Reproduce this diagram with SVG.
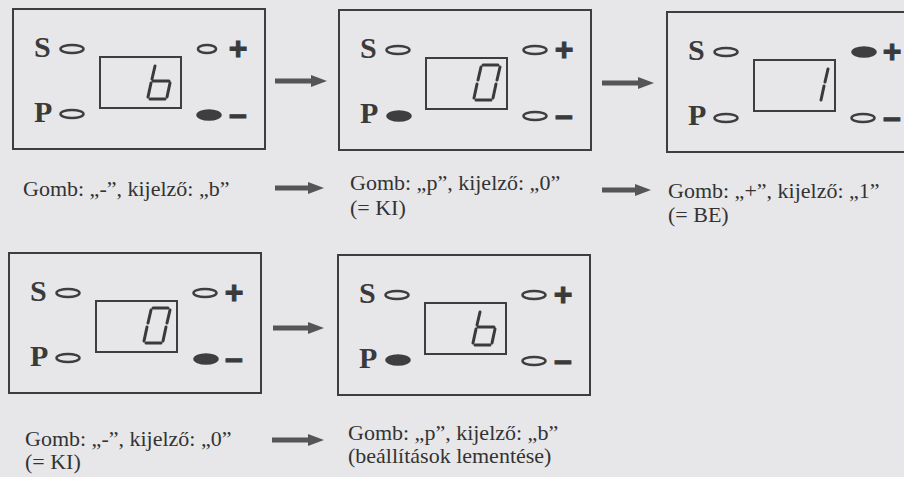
<svg xmlns="http://www.w3.org/2000/svg" width="904" height="477" viewBox="0 0 904 477">
<defs>
<style>
.bg{fill:#e7e7ea}
.box{fill:none;stroke:#3e3e3e;stroke-width:2}
.disp{fill:none;stroke:#3e3e3e;stroke-width:2}
.ov{fill:none;stroke:#3e3e3e;stroke-width:2.5}
.ovf{fill:#3e3e3e;stroke:#3e3e3e;stroke-width:1.5}
.lt{font-family:"Liberation Serif",serif;font-weight:bold;font-size:30px;fill:#3a3a3a}
.sg{font-family:"Liberation Sans",sans-serif;font-weight:bold;font-size:32px;fill:#3a3a3a;stroke:#3a3a3a;stroke-width:1;text-anchor:middle}
.seg{stroke:#3a3a3a;stroke-width:3;stroke-linecap:round;fill:none}
.cap{font-family:"Liberation Serif",serif;font-size:22px;fill:#333}
.arr{stroke:#555;stroke-width:5;fill:none}
</style>
<marker id="ah" markerUnits="userSpaceOnUse" markerWidth="16" markerHeight="14" refX="1" refY="7" orient="auto" viewBox="0 0 16 14">
<path d="M0,1 L16,7 L0,13 Z" fill="#555"/>
</marker>
<g id="base">
<rect class="box" x="0" y="0" width="252" height="140"/>
<text class="lt" x="21" y="48">S</text>
<text class="lt" x="21" y="113">P</text>
<rect class="disp" x="87" y="48" width="81" height="51"/>
<text class="sg" x="225" y="50">+</text>
<text class="sg" x="225" y="116">–</text>
</g>
</defs>
<rect class="bg" x="0" y="0" width="904" height="477"/>

<g id="panel1" transform="translate(13,9)">
<use href="#base"/>
<ellipse class="ov" cx="59" cy="40" rx="11.5" ry="4"/>
<ellipse class="ov" cx="59" cy="105" rx="11.5" ry="4"/>
<ellipse class="ov" cx="194" cy="40" rx="9" ry="4"/>
<ellipse class="ovf" cx="196" cy="106" rx="12" ry="5"/>
<g class="seg" transform="translate(87,48)">
<path d="M55,9 L52,22"/><path d="M51,26 L48,40"/><path d="M53,24 L69,24"/><path d="M70,26 L67,40"/><path d="M50,42 L65,42"/>
</g>
</g>

<g id="panel2" transform="translate(339,10)">
<use href="#base"/>
<ellipse class="ov" cx="59" cy="40" rx="11.5" ry="4"/>
<ellipse class="ovf" cx="60" cy="106" rx="12" ry="5"/>
<ellipse class="ov" cx="196" cy="40" rx="11.5" ry="4"/>
<ellipse class="ov" cx="196" cy="106" rx="11.5" ry="4"/>
<g class="seg" transform="translate(87,48)">
<path d="M57,7 L72,7"/><path d="M55,9 L52,22"/><path d="M74,9 L71,22"/><path d="M51,26 L48,40"/><path d="M70,26 L67,40"/><path d="M50,42 L65,42"/>
</g>
</g>

<g id="panel3" transform="translate(667,12)">
<use href="#base"/>
<ellipse class="ov" cx="59" cy="40" rx="11.5" ry="4"/>
<ellipse class="ov" cx="59" cy="106" rx="11.5" ry="4"/>
<ellipse class="ovf" cx="197" cy="40" rx="12" ry="5"/>
<ellipse class="ov" cx="196" cy="106" rx="11.5" ry="4"/>
<g class="seg" transform="translate(87,48)">
<path d="M74,9 L71,22"/><path d="M70,26 L67,40"/>
</g>
</g>

<g id="panel4" transform="translate(9,253)">
<use href="#base"/>
<ellipse class="ov" cx="59" cy="40" rx="11.5" ry="4"/>
<ellipse class="ov" cx="59" cy="105" rx="11.5" ry="4"/>
<ellipse class="ov" cx="196" cy="40" rx="11.5" ry="4"/>
<ellipse class="ovf" cx="197" cy="106" rx="12" ry="5"/>
<g class="seg" transform="translate(87,48)">
<path d="M57,7 L72,7"/><path d="M55,9 L52,22"/><path d="M74,9 L71,22"/><path d="M51,26 L48,40"/><path d="M70,26 L67,40"/><path d="M50,42 L65,42"/>
</g>
</g>

<g id="panel5" transform="translate(338,255)">
<use href="#base"/>
<ellipse class="ov" cx="59" cy="40" rx="11.5" ry="4"/>
<ellipse class="ovf" cx="60" cy="105" rx="12" ry="5"/>
<ellipse class="ov" cx="196" cy="40" rx="11.5" ry="4"/>
<ellipse class="ov" cx="196" cy="106" rx="11.5" ry="4"/>
<g class="seg" transform="translate(87,48)">
<path d="M55,9 L52,22"/><path d="M51,26 L48,40"/><path d="M53,24 L69,24"/><path d="M70,26 L67,40"/><path d="M50,42 L65,42"/>
</g>
</g>

<g id="captions">
<text class="cap" x="23" y="196">Gomb: „-”, kijelző: „b”</text>
<text class="cap" x="350" y="190">Gomb: „p”, kijelző: „0”</text>
<text class="cap" x="350" y="215">(= KI)</text>
<text class="cap" x="668" y="198">Gomb: „+”, kijelző: „1”</text>
<text class="cap" x="668" y="222">(= BE)</text>
<text class="cap" x="25" y="446">Gomb: „-”, kijelző: „0”</text>
<text class="cap" x="25" y="469">(= KI)</text>
<text class="cap" x="348" y="440">Gomb: „p”, kijelző: „b”</text>
<text class="cap" x="348" y="463">(beállítások lementése)</text>
</g>

<g id="connectors">
<path class="arr" d="M275,81 L312,81" marker-end="url(#ah)"/>
<path class="arr" d="M602,83 L639,83" marker-end="url(#ah)"/>
<path class="arr" d="M275,188 L309,188" marker-end="url(#ah)"/>
<path class="arr" d="M602,190 L636,190" marker-end="url(#ah)"/>
<path class="arr" d="M273,328 L309,328" marker-end="url(#ah)"/>
<path class="arr" d="M272,440 L309,440" marker-end="url(#ah)"/>
</g>
</svg>
